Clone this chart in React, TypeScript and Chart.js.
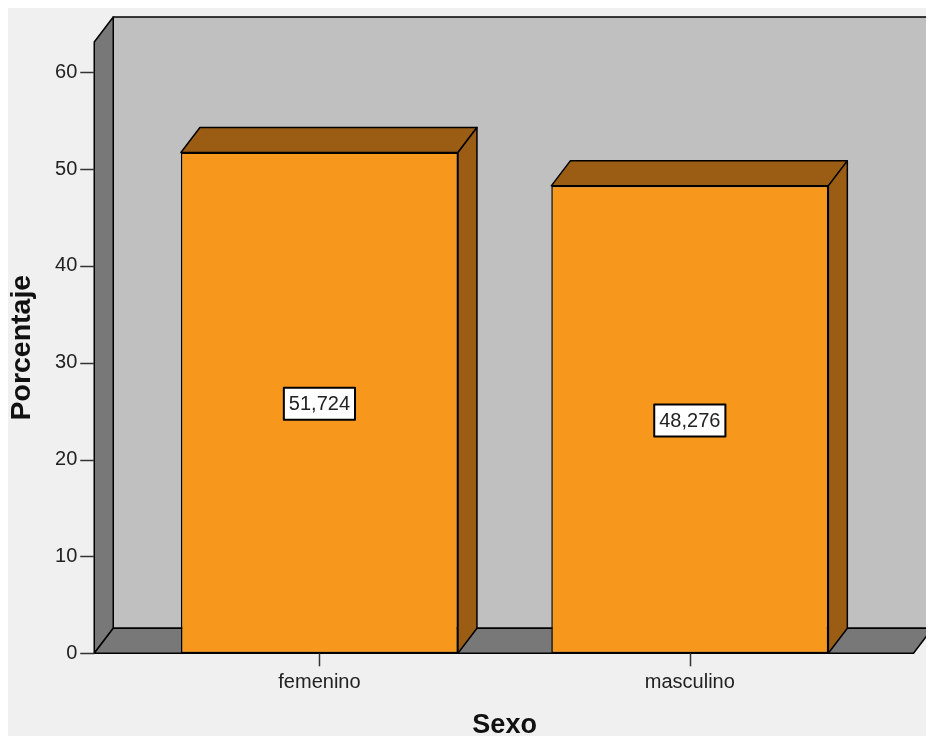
import React, { useEffect, useRef } from 'react';
import { Chart, registerables } from 'chart.js';

Chart.register(...registerables);

// Data
const categories: string[] = ['femenino', 'masculino'];
const percentages: number[] = [51.724, 48.276];
const yTickStep = 10;
const yAxisMax = 63.13;
const xAxisTitle = 'Sexo';
const yAxisTitle = 'Porcentaje';

// Canvas and 3D frame geometry
const CANVAS_W = 926;
const CANVAS_H = 728;
const DEPTH_X = 19;
const DEPTH_Y = -25;
const WALL_LEFT_GAP = 40;
const FLOOR_RIGHT_GAP = 38.5;

const FONT = '"Liberation Sans", Arial, sans-serif';
const BAR_FRONT = '#f7981d';
const BAR_SHADE = '#9b5c14';
const BACK_WALL = '#c0c0c0';
const SIDE_WALL = '#787878';
const PAGE_BG = '#f0f0f0';

const formatValue = (v: number) => v.toFixed(3).replace('.', ',');

function poly(ctx: CanvasRenderingContext2D, pts: number[][]) {
  ctx.beginPath();
  ctx.moveTo(pts[0][0], pts[0][1]);
  for (let i = 1; i < pts.length; i++) ctx.lineTo(pts[i][0], pts[i][1]);
  ctx.closePath();
}

const frame3d = {
  id: 'frame3d',
  beforeDraw(chart: any) {
    const { ctx, width, height } = chart;
    ctx.save();
    ctx.fillStyle = PAGE_BG;
    ctx.fillRect(0, 0, width, height);
    ctx.restore();
  },
  beforeDatasetsDraw(chart: any) {
    const { ctx, chartArea: a } = chart;
    const fl = a.left - WALL_LEFT_GAP;
    const fr = a.right + FLOOR_RIGHT_GAP;
    const ft = a.top;
    const fb = a.bottom;
    const bl = fl + DEPTH_X;
    const br = fr + DEPTH_X;
    const bt = ft + DEPTH_Y;
    const bb = fb + DEPTH_Y;
    ctx.save();
    ctx.lineJoin = 'round';
    ctx.lineWidth = 1.5;
    ctx.strokeStyle = '#000';
    // back wall
    ctx.fillStyle = BACK_WALL;
    poly(ctx, [[bl, bt], [br, bt], [br, bb], [bl, bb]]);
    ctx.fill();
    ctx.stroke();
    // left wall
    ctx.fillStyle = SIDE_WALL;
    poly(ctx, [[fl, ft], [bl, bt], [bl, bb], [fl, fb]]);
    ctx.fill();
    ctx.stroke();
    // floor
    poly(ctx, [[fl, fb], [bl, bb], [br, bb], [fr, fb]]);
    ctx.fill();
    ctx.stroke();
    ctx.restore();
  },
  afterDatasetsDraw(chart: any) {
    const { ctx, chartArea: a } = chart;
    const meta = chart.getDatasetMeta(0);
    ctx.save();
    ctx.lineJoin = 'round';
    ctx.lineWidth = 1.5;
    ctx.strokeStyle = '#000';
    meta.data.forEach((bar: any, i: number) => {
      const { x, y, base, width } = bar.getProps(['x', 'y', 'base', 'width'], true);
      const l = x - width / 2;
      const r = x + width / 2;
      ctx.fillStyle = BAR_SHADE;
      // top face
      poly(ctx, [[l, y], [l + DEPTH_X, y + DEPTH_Y], [r + DEPTH_X, y + DEPTH_Y], [r, y]]);
      ctx.fill();
      ctx.stroke();
      // right face
      poly(ctx, [[r, y], [r + DEPTH_X, y + DEPTH_Y], [r + DEPTH_X, base + DEPTH_Y], [r, base]]);
      ctx.fill();
      ctx.stroke();

      // value label in a boxed tag at the middle of the front face
      const text = formatValue(percentages[i]);
      ctx.font = `20px ${FONT}`;
      const tw = ctx.measureText(text).width;
      const bw = tw + 10;
      const bh = 32;
      const cy = (y + base) / 2 + 1;
      ctx.fillStyle = '#ffffff';
      ctx.fillRect(x - bw / 2, cy - bh / 2, bw, bh);
      ctx.lineWidth = 2;
      ctx.strokeRect(x - bw / 2, cy - bh / 2, bw, bh);
      ctx.lineWidth = 1.5;
      ctx.fillStyle = '#222';
      ctx.textAlign = 'center';
      ctx.textBaseline = 'middle';
      ctx.fillText(text, x, cy + 1);
    });

    // tick marks on the front edges of the frame
    const yScale = chart.scales.y;
    const xScale = chart.scales.x;
    const wallX = a.left - WALL_LEFT_GAP;
    ctx.strokeStyle = '#333';
    ctx.lineWidth = 1.5;
    yScale.ticks.forEach((t: any) => {
      const py = Math.round(yScale.getPixelForValue(t.value)) + 0.5;
      ctx.beginPath();
      ctx.moveTo(wallX - 14, py);
      ctx.lineTo(wallX, py);
      ctx.stroke();
    });
    categories.forEach((_c, i) => {
      const px = Math.round(xScale.getPixelForValue(i)) + 0.5;
      ctx.beginPath();
      ctx.moveTo(px, a.bottom);
      ctx.lineTo(px, a.bottom + 13);
      ctx.stroke();
    });
    ctx.restore();
  },
};

export default function App() {
  const canvasRef = useRef<HTMLCanvasElement | null>(null);

  useEffect(() => {
    const canvas = canvasRef.current;
    if (!canvas) return;
    const chart = new Chart(canvas, {
      type: 'bar',
      data: {
        labels: categories,
        datasets: [
          {
            data: percentages,
            backgroundColor: BAR_FRONT,
            borderColor: '#000',
            borderWidth: 1.5,
            borderSkipped: false,
            categoryPercentage: 1,
            barPercentage: 0.748,
          },
        ],
      },
      options: {
        animation: false,
        responsive: false,
        devicePixelRatio: 1,
        layout: { padding: { left: 0, right: 59, top: 34, bottom: 0 } },
        plugins: {
          legend: { display: false },
          tooltip: { enabled: false },
        },
        scales: {
          x: {
            type: 'category',
            grid: { display: false, drawTicks: true, tickLength: 0 },
            border: { display: false },
            ticks: {
              padding: 17,
              color: '#222',
              font: { family: FONT, size: 20 },
              maxRotation: 0,
            },
            title: {
              display: true,
              text: xAxisTitle,
              color: '#111',
              font: { family: FONT, size: 27, weight: 'bold', lineHeight: 0.8 },
              padding: { top: 0, bottom: 0 },
            },
            afterFit: (scale: any) => {
              scale.height = 82.7;
            },
          },
          y: {
            min: 0,
            max: yAxisMax,
            grid: { display: false, drawTicks: true, tickLength: 57 },
            border: { display: false },
            ticks: {
              stepSize: yTickStep,
              padding: 0,
              color: '#222',
              font: { family: FONT, size: 20 },
            },
            afterBuildTicks: (scale: any) => {
              scale.ticks = scale.ticks.filter((t: any) => t.value % yTickStep === 0);
            },
            title: {
              display: true,
              text: yAxisTitle,
              color: '#111',
              font: { family: FONT, size: 28.5, weight: 'bold', lineHeight: 0.8 },
              padding: { top: 3, bottom: 0 },
            },
            afterFit: (scale: any) => {
              scale.width = 126.25;
            },
          },
        },
      },
      plugins: [frame3d],
    });
    return () => chart.destroy();
  }, []);

  return (
    <div style={{ width: CANVAS_W, height: CANVAS_H }}>
      <canvas ref={canvasRef} width={CANVAS_W} height={CANVAS_H} style={{ display: 'block' }} />
    </div>
  );
}
